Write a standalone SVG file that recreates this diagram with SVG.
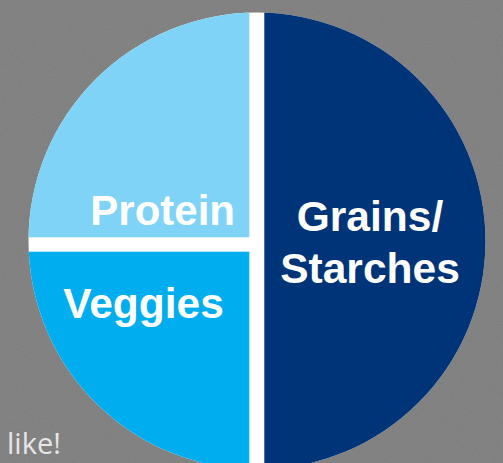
<svg xmlns="http://www.w3.org/2000/svg" width="503" height="463" viewBox="0 0 503 463">
  <defs>
    <filter id="grain" x="0" y="0" width="100%" height="100%">
      <feTurbulence type="fractalNoise" baseFrequency="0.9" numOctaves="2" seed="3" result="n"/>
      <feColorMatrix in="n" type="matrix" values="0 0 0 0 0.5  0 0 0 0 0.5  0 0 0 0 0.5  0 0 0 0.18 0"/>
    </filter>
    <clipPath id="plate">
      <circle cx="257" cy="241" r="228.5"/>
    </clipPath>
    <style>
      .lbl { font-family: "Liberation Sans", Arial, sans-serif; font-weight: bold; fill: #ffffff; }
      .note { font-family: "Open Sans", "Liberation Sans", sans-serif; fill: #e6e6e6; }
    </style>
  </defs>

  <rect x="0" y="0" width="503" height="463" fill="#7c7c7c"/>
  <rect x="0" y="0" width="503" height="463" filter="url(#grain)"/>

  <g id="plate-base">
    <circle cx="257" cy="241" r="228.5" fill="#ffffff"/>
  </g>

  <g id="protein" clip-path="url(#plate)">
    <rect x="0" y="0" width="249.3" height="237.3" fill="#7fd3f7"/>
    <text class="lbl" x="235" y="225" font-size="42" text-anchor="end">Protein</text>
  </g>

  <g id="veggies" clip-path="url(#plate)">
    <rect x="0" y="251.7" width="249.3" height="230" fill="#00aeef"/>
    <text class="lbl" x="143.5" y="318" font-size="42.5" text-anchor="middle">Veggies</text>
  </g>

  <g id="grains" clip-path="url(#plate)">
    <rect x="264.3" y="0" width="240" height="480" fill="#003478"/>
    <text class="lbl" x="370" y="231" font-size="42.5" text-anchor="middle">Grains/</text>
    <text class="lbl" x="370" y="283" font-size="42.5" text-anchor="middle">Starches</text>
  </g>

  <g id="caption">
    <text class="note" x="7" y="454" font-size="29">like!</text>
  </g>

  <g id="connectors"/>
</svg>
